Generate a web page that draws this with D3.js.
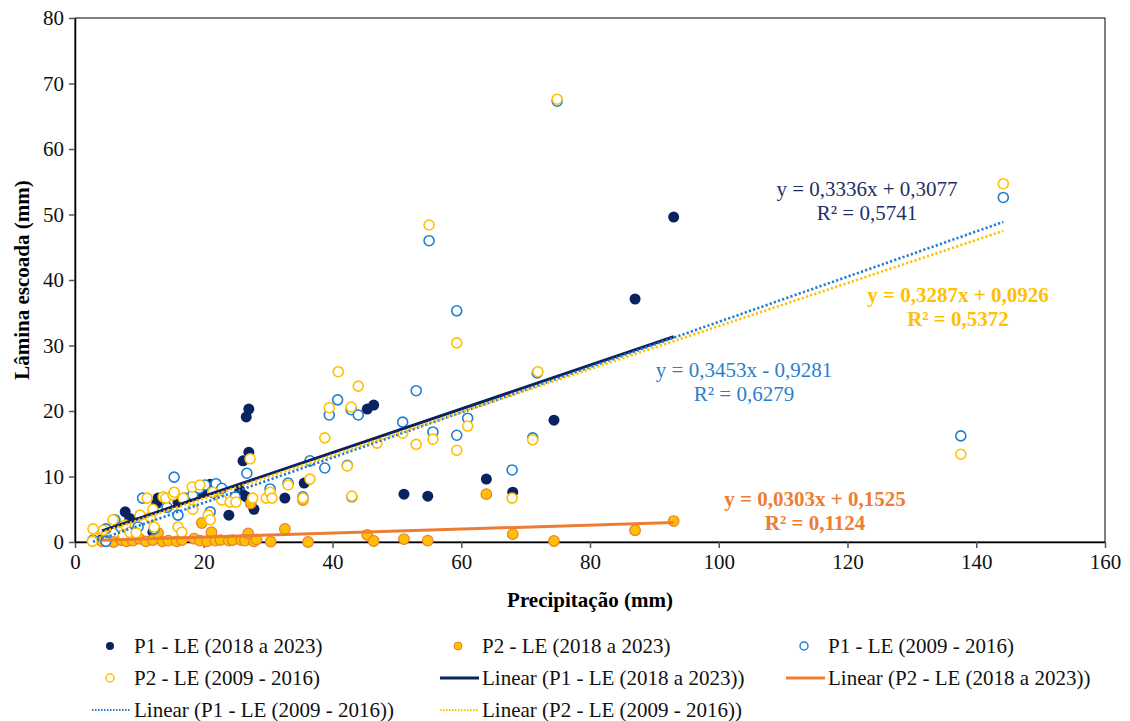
<!DOCTYPE html>
<html>
<head>
<meta charset="utf-8">
<script src="https://cdn.jsdelivr.net/npm/d3@7"></script>
<style>
  body { margin: 0; background: #fff; }
  svg text { font-family: "Liberation Serif", Tinos, "Times New Roman", Times, "DejaVu Serif", "Noto Serif", serif !important; }
</style>
</head>
<body>
<div id="viz"></div>
<script>
// series names (legend order)
const seriesNames = ["P1 - LE (2018 a 2023)", "P2 - LE (2018 a 2023)", "P1 - LE (2009 - 2016)", "P2 - LE (2009 - 2016)"];

// [precipitação, lâmina escoada]
const p1New = [[4.2,0.4],[7.8,4.6],[8.5,3.6],[12.1,1.5],[12.7,5.9],[12.9,6.7],[16.0,6.1],[17.1,6.7],[19.7,7.6],[20.5,8.2],
  [21.4,7.5],[21.0,8.8],[23.9,4.1],[25.6,7.9],[26.1,7.2],[26.1,12.4],[26.6,6.9],[26.6,19.1],[27.0,13.7],[27.0,20.3],
  [27.8,5.0],[32.6,6.7],[35.6,9.0],[45.4,20.3],[46.4,20.9],[51.1,7.3],[54.8,7.0],[63.9,9.6],[68.0,7.6],[74.4,18.6],
  [87.0,37.1],[93.0,49.6]];
const p2New = [[4.2,0.1],[5.0,0.2],[6.0,0.0],[7.2,0.3],[8.0,0.1],[9.0,0.2],[10.0,0.5],[11.0,0.1],[12.1,0.3],[12.9,1.4],
  [13.6,0.1],[14.5,0.2],[15.8,0.1],[16.6,0.3],[18.5,0.5],[19.4,0.2],[19.7,2.9],[20.5,0.1],[21.2,1.5],[21.8,0.2],
  [22.6,0.3],[23.9,0.2],[24.5,0.3],[25.8,0.3],[26.4,0.2],[26.9,1.3],[27.3,5.9],[27.8,0.1],[28.2,0.4],[30.4,0.05],
  [32.6,2.0],[35.4,6.4],[36.2,0.0],[45.4,1.1],[46.4,0.15],[51.1,0.45],[54.8,0.2],[63.9,7.3],[68.0,1.2],[74.4,0.15],
  [87.0,1.8],[93.0,3.2]];
const p1Old = [[2.8,0.3],[4.8,2.0],[4.8,0.1],[6.2,3.4],[7.1,2.3],[9.8,2.3],[10.5,6.7],[12.3,2.0],[14.3,5.3],[15.4,9.9],
  [16.0,4.1],[18.3,7.2],[19.3,8.2],[20.2,8.7],[21.0,4.6],[21.9,8.9],[22.8,8.2],[24.9,6.9],[26.7,10.5],[30.3,8.1],
  [33.1,9.0],[35.4,6.9],[36.5,12.4],[38.8,11.3],[39.5,19.4],[40.8,21.7],[42.3,11.7],[42.9,20.2],[43.0,6.9],[44.0,19.4],
  [50.9,18.3],[53.0,23.1],[55.0,46.0],[55.6,16.8],[59.3,35.3],[59.3,16.3],[61.0,18.9],[67.9,11.0],[71.1,15.9],[71.8,25.8],
  [74.9,67.3],[137.6,16.2],[144.2,52.6]];
const p2Old = [[2.8,2.0],[2.7,0.1],[4.4,1.8],[5.9,3.4],[7.5,1.1],[7.8,2.6],[8.5,1.5],[9.5,1.4],[10.1,4.1],[11.2,6.7],
  [11.7,3.8],[12.1,5.0],[12.3,2.3],[13.7,6.9],[14.1,6.7],[15.2,7.2],[15.4,7.6],[16.0,2.3],[16.6,1.5],[16.8,6.7],
  [18.2,8.4],[18.3,5.0],[19.4,8.7],[20.7,4.1],[21.0,3.4],[21.4,7.6],[22.8,6.4],[24.1,6.1],[25.0,6.1],[27.2,12.7],
  [27.6,6.7],[29.7,6.7],[30.3,7.6],[30.6,6.7],[33.1,8.7],[35.4,6.7],[36.5,9.6],[38.8,15.9],[39.5,20.5],[40.9,26.0],
  [42.3,11.6],[42.9,20.6],[43.0,7.0],[44.0,23.8],[46.9,15.1],[50.9,16.6],[53.0,14.9],[55.0,48.4],[55.6,15.7],[59.3,30.4],
  [59.3,14.0],[61.0,17.7],[67.9,6.7],[71.1,15.6],[71.9,26.0],[74.9,67.6],[137.6,13.4],[144.2,54.7]];

// trendline coefficients as printed on the chart
const slopes = [0.3336, 0.0303, 0.3453, 0.3287];
const intercepts = [0.3077, 0.1525, -0.9281, 0.0926];
const eqLabels = ["y = 0,3336x + 0,3077", "y = 0,0303x + 0,1525", "y = 0,3453x - 0,9281", "y = 0,3287x + 0,0926"];
const r2Labels = ["R² = 0,5741", "R² = 0,1124", "R² = 0,6279", "R² = 0,5372"];

const xTicks = [0, 20, 40, 60, 80, 100, 120, 140, 160];
const yTicks = [0, 10, 20, 30, 40, 50, 60, 70, 80];

const allData = [p1New, p2New, p1Old, p2Old];
const navy = "#0b2260", orange = "#ed7d31", amber = "#ffc000", blue = "#1f7ed0", gold = "#ffc000";
const serif = '"Liberation Serif", Tinos, "Times New Roman", Times, "DejaVu Serif", serif';

const W = 1130, H = 721;
const svg = d3.select("#viz").append("svg").attr("width", W).attr("height", H)
  .attr("font-family", serif);

const x = d3.scaleLinear().domain([0, 160]).range([75, 1105]);
const y = d3.scaleLinear().domain([0, 80]).range([542, 18]);

// plot box
svg.append("rect").attr("x", 75).attr("y", 18).attr("width", 1030).attr("height", 524)
  .attr("fill", "none").attr("stroke", "#000").attr("stroke-width", 1);

// axes
const xAxis = svg.append("g").attr("transform", "translate(0,542)")
  .call(d3.axisBottom(x).tickValues(xTicks).tickSize(6).tickSizeOuter(0).tickPadding(6));
const yAxis = svg.append("g").attr("transform", "translate(75,0)")
  .call(d3.axisLeft(y).tickValues(yTicks).tickSize(6).tickSizeOuter(0).tickPadding(5));
[xAxis, yAxis].forEach(g => {
  g.attr("font-family", serif);
  g.select(".domain").attr("stroke", "#000").attr("stroke-width", 1.5);
  g.selectAll(".tick line").attr("stroke", "#555").attr("stroke-width", 1.5);
  g.selectAll("text").attr("font-size", 21).attr("fill", "#111");
});

// axis titles
svg.append("text").attr("x", 590).attr("y", 607).attr("text-anchor", "middle")
  .attr("font-size", 21).attr("font-weight", "bold").text("Precipitação (mm)");
svg.append("text").attr("transform", "translate(29,280) rotate(-90)").attr("text-anchor", "middle")
  .attr("font-size", 21).attr("font-weight", "bold").text("Lâmina escoada (mm)");

// points
const pts = svg.append("g");
pts.selectAll(".a").data(p1New).enter().append("circle")
  .attr("cx", d => x(d[0])).attr("cy", d => y(d[1])).attr("r", 5.5).attr("fill", navy);
pts.selectAll(".b").data(p2New).enter().append("circle")
  .attr("cx", d => x(d[0])).attr("cy", d => y(d[1])).attr("r", 5.3)
  .attr("fill", amber).attr("stroke", orange).attr("stroke-width", 1.2);
pts.selectAll(".c").data(p1Old).enter().append("circle")
  .attr("cx", d => x(d[0])).attr("cy", d => y(d[1])).attr("r", 5)
  .attr("fill", "#fff").attr("stroke", blue).attr("stroke-width", 1.6);
pts.selectAll(".d").data(p2Old).enter().append("circle")
  .attr("cx", d => x(d[0])).attr("cy", d => y(d[1])).attr("r", 5)
  .attr("fill", "#fff").attr("stroke", gold).attr("stroke-width", 1.6);

// trendlines over each series' x range
const trendStyle = [
  {color: navy, width: 3, dash: null},
  {color: orange, width: 3, dash: null},
  {color: blue, width: 2.6, dash: "2.2,2.2"},
  {color: gold, width: 2.6, dash: "2.2,2.2"}
];
const line = d3.line().x(d => x(d[0])).y(d => y(d[1]));
allData.forEach((data, i) => {
  const ext = d3.extent(data, d => d[0]);
  const ends = ext.map(v => [v, slopes[i] * v + intercepts[i]]);
  svg.append("path").attr("d", line(ends)).attr("fill", "none")
    .attr("stroke", trendStyle[i].color).attr("stroke-width", trendStyle[i].width)
    .attr("stroke-dasharray", trendStyle[i].dash);
});

// equation labels
const eqPos = [[867, 196], [815, 506], [744, 377], [958, 302]];
const eqColor = ["#1f2f66", orange, "#2a7fcc", gold];
const eqBold = [false, true, false, true];
eqLabels.forEach((t, i) => {
  const g = svg.append("text").attr("text-anchor", "middle").attr("font-size", 21)
    .attr("font-weight", eqBold[i] ? "bold" : "normal").attr("fill", eqColor[i]);
  g.append("tspan").attr("x", eqPos[i][0]).attr("y", eqPos[i][1]).text(t);
  g.append("tspan").attr("x", eqPos[i][0]).attr("y", eqPos[i][1] + 24).text(r2Labels[i]);
});

// legend
const legendItems = [
  {label: seriesNames[0], type: "dot", col: 0, row: 0, s: 0},
  {label: seriesNames[1], type: "dot", col: 1, row: 0, s: 1},
  {label: seriesNames[2], type: "dot", col: 2, row: 0, s: 2},
  {label: seriesNames[3], type: "dot", col: 0, row: 1, s: 3},
  {label: "Linear (" + seriesNames[0] + ")", type: "line", col: 1, row: 1, s: 0},
  {label: "Linear (" + seriesNames[1] + ")", type: "line", col: 2, row: 1, s: 1},
  {label: "Linear (" + seriesNames[2] + ")", type: "line", col: 0, row: 2, s: 2},
  {label: "Linear (" + seriesNames[3] + ")", type: "line", col: 1, row: 2, s: 3}
];
const colX = [134, 482, 828];
const rowY = [646, 678, 710];
legendItems.forEach(it => {
  const tx = colX[it.col], ty = rowY[it.row];
  if (it.type === "dot") {
    const c = svg.append("circle").attr("cx", tx - 24).attr("cy", ty).attr("r", 4);
    if (it.s === 0) c.attr("fill", navy);
    if (it.s === 1) c.attr("fill", amber).attr("stroke", orange).attr("stroke-width", 1);
    if (it.s === 2) c.attr("fill", "#fff").attr("stroke", blue).attr("stroke-width", 1.5);
    if (it.s === 3) c.attr("fill", "#fff").attr("stroke", gold).attr("stroke-width", 1.5);
  } else {
    const st = trendStyle[it.s];
    svg.append("line").attr("x1", tx - 42).attr("x2", tx - 3).attr("y1", ty).attr("y2", ty)
      .attr("stroke", st.color).attr("stroke-width", it.s < 2 ? 3 : 2)
      .attr("stroke-dasharray", st.dash ? "1.5,1.5" : null);
  }
  svg.append("text").attr("x", tx).attr("y", ty + 7).attr("font-size", 21).attr("fill", "#111").text(it.label);
});
</script>
</body>
</html>
